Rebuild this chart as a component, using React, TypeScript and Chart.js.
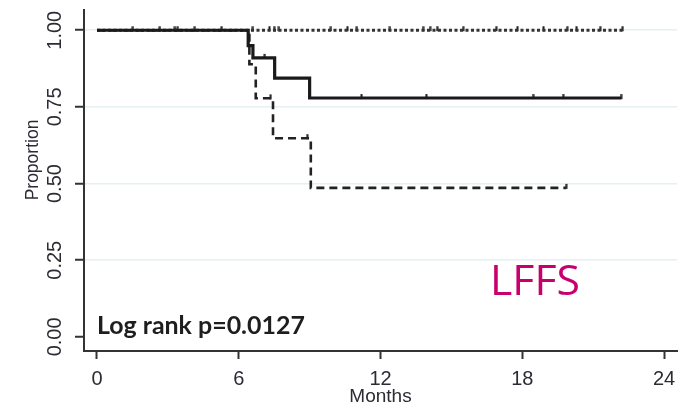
import React, { useEffect, useRef } from "react";
import { Chart, registerables } from "chart.js";

Chart.register(...registerables);

// Axis ticks
const monthTicks = [0, 6, 12, 18, 24];
const proportionTicks = [0, 0.25, 0.5, 0.75, 1];

// Kaplan-Meier step curves (time in months, proportion)
const solidTimes = [0, 6.4, 6.6, 7.52, 9.0, 22.2];
const solidValues = [1, 0.95, 0.91, 0.844, 0.779, 0.779];

const dashedTimes = [0, 6.45, 6.72, 7.45, 9.05, 19.86];
const dashedValues = [1, 0.889, 0.778, 0.648, 0.486, 0.486];

const dottedTimes = [0, 22.3];
const dottedValues = [1, 1];

// Censoring marks
const solidCensorTimes = [1.52, 2.66, 3.3, 3.42, 4.14, 5.28, 7.1, 11.2, 13.94, 18.46, 19.73, 22.18];
const solidCensorValues = [1, 1, 1, 1, 1, 1, 0.91, 0.779, 0.779, 0.779, 0.779, 0.779];

const dashedCensorTimes = [7.35, 8.9, 19.86];
const dashedCensorValues = [0.778, 0.648, 0.486];

const dottedCensorTimes = [6.6, 7.3, 7.5, 7.7, 9.9, 10.6, 11.0, 12.4, 13.8, 14.1, 14.4, 15.5, 16.9, 17.8, 18.9, 19.9, 20.3, 21.3, 22.25];
const dottedCensorValues = [1, 1, 1, 1, 1, 1, 1, 1, 1, 1, 1, 1, 1, 1, 1, 1, 1, 1, 1];

const pValueText = "Log rank p=0.0127";
const panelLabel = "LFFS";
const yTitle = "Proportion";
const xTitle = "Months";

const toPoints = (xs: number[], ys: number[]) => xs.map((x, i) => ({ x, y: ys[i] }));

function makeCensorMark(color: string): HTMLCanvasElement {
  const c = document.createElement("canvas");
  c.width = 3;
  c.height = 10;
  const g = c.getContext("2d")!;
  g.fillStyle = color;
  g.fillRect(0.5, 1, 2, 5);
  return c;
}

const textPlugin = {
  id: "annotTexts",
  afterDraw(chart: any) {
    const ctx = chart.ctx as CanvasRenderingContext2D;
    const xs = chart.scales.x;
    ctx.save();
    // y title
    ctx.translate(33, 160);
    ctx.rotate(-Math.PI / 2);
    ctx.font = '17.5px "Liberation Sans", Arial, sans-serif';
    ctx.textAlign = "center";
    ctx.textBaseline = "middle";
    ctx.fillStyle = "#2b2b33";
    ctx.fillText(yTitle, 0, 0);
    ctx.restore();

    // Log rank text, fitted to width
    ctx.save();
    ctx.font = 'bold 100px Lato, "Open Sans", sans-serif';
    const w1 = ctx.measureText(pValueText).width;
    const size1 = (100 * 208) / w1;
    ctx.font = `bold ${size1}px Lato, "Open Sans", sans-serif`;
    ctx.fillStyle = "#1e1e1e";
    ctx.textAlign = "left";
    ctx.textBaseline = "alphabetic";
    ctx.fillText(pValueText, xs.getPixelForValue(0), 334);

    // LFFS
    ctx.font = '100px "Open Sans", sans-serif';
    const w2 = ctx.measureText(panelLabel).width;
    const size2 = (100 * 90) / w2;
    ctx.font = `${size2}px "Open Sans", sans-serif`;
    ctx.fillStyle = "#c8006e";
    ctx.fillText(panelLabel, 490, 295);
    ctx.restore();
  },
};

export default function App() {
  const ref = useRef<HTMLCanvasElement>(null);

  useEffect(() => {
    document.body.style.margin = "0";
    const mark = makeCensorMark("#1a1a1a");
    const chart = new Chart(ref.current!, {
      type: "line",
      data: {
        datasets: [
          {
            label: "solid",
            data: toPoints(solidTimes, solidValues),
            stepped: "before",
            borderColor: "#1a1a1a",
            borderWidth: 3.2,
            pointRadius: 0,
            fill: false,
          },
          {
            label: "solid-censor",
            data: toPoints(solidCensorTimes, solidCensorValues),
            showLine: false,
            pointStyle: mark,
            pointRadius: 4,
          } as any,
          {
            label: "dashed",
            data: toPoints(dashedTimes, dashedValues),
            stepped: "before",
            borderColor: "#222",
            borderWidth: 2.6,
            borderDash: [8, 5],
            pointRadius: 0,
            fill: false,
          },
          {
            label: "dashed-censor",
            data: toPoints(dashedCensorTimes, dashedCensorValues),
            showLine: false,
            pointStyle: mark,
            pointRadius: 4,
          } as any,
          {
            label: "dotted",
            data: toPoints(dottedTimes, dottedValues),
            stepped: "before",
            borderColor: "#333",
            borderWidth: 3,
            borderDash: [3, 2.5],
            pointRadius: 0,
            fill: false,
          },
          {
            label: "dotted-censor",
            data: toPoints(dottedCensorTimes, dottedCensorValues),
            showLine: false,
            pointStyle: mark,
            pointRadius: 4,
          } as any,
        ],
      },
      options: {
        responsive: false,
        animation: false,
        events: [],
        layout: { padding: { left: 0, top: 10, right: 11, bottom: 0 } },
        plugins: {
          legend: { display: false },
          tooltip: { enabled: false },
        },
        scales: {
          x: {
            type: "linear",
            min: -0.55,
            max: 24.55,
            afterBuildTicks: (s: any) => {
              s.ticks = monthTicks.map((v) => ({ value: v }));
            },
            afterFit: (s: any) => {
              s.height = 58;
              s.paddingLeft = 0;
              s.paddingRight = 0;
            },
            grid: {
              drawOnChartArea: false,
              drawTicks: true,
              tickLength: 8,
              tickColor: "#333",
              tickWidth: 2,
            },
            border: { color: "#333", width: 2 },
            ticks: {
              padding: 8,
              color: "#2b2b33",
              font: { family: '"Liberation Sans", Arial, sans-serif', size: 20 },
              callback: (v: any) => String(v),
              maxRotation: 0,
              minRotation: 0,
            },
            title: {
              display: true,
              text: xTitle,
              color: "#2b2b33",
              font: { family: '"Liberation Sans", Arial, sans-serif', size: 19 },
              padding: { top: 0, bottom: 1 },
            },
          },
          y: {
            type: "linear",
            min: -0.046,
            max: 1.066,
            afterBuildTicks: (s: any) => {
              s.ticks = proportionTicks.map((v) => ({ value: v }));
            },
            afterFit: (s: any) => {
              s.width = 84;
              s.paddingTop = 0;
              s.paddingBottom = 0;
            },
            grid: {
              drawTicks: true,
              tickLength: 9,
              tickColor: "#333",
              tickWidth: 2,
              lineWidth: 1.5,
              color: (c: any) => (c.tick && c.tick.value === 0 ? "rgba(0,0,0,0)" : "#e4f0f1"),
            },
            border: { color: "#333", width: 2 },
            ticks: {
              padding: 0,
              crossAlign: "center",
              minRotation: 90,
              maxRotation: 90,
              color: "#2b2b33",
              font: { family: '"Liberation Sans", Arial, sans-serif', size: 20 },
              callback: (v: any) => Number(v).toFixed(2),
            },
          },
        },
      },
      plugins: [textPlugin],
    } as any);
    return () => chart.destroy();
  }, []);

  return (
    <div style={{ position: "absolute", left: 0, top: 0, width: 688, height: 409, background: "#fff" }}>
      <canvas ref={ref} width={688} height={409} />
    </div>
  );
}
